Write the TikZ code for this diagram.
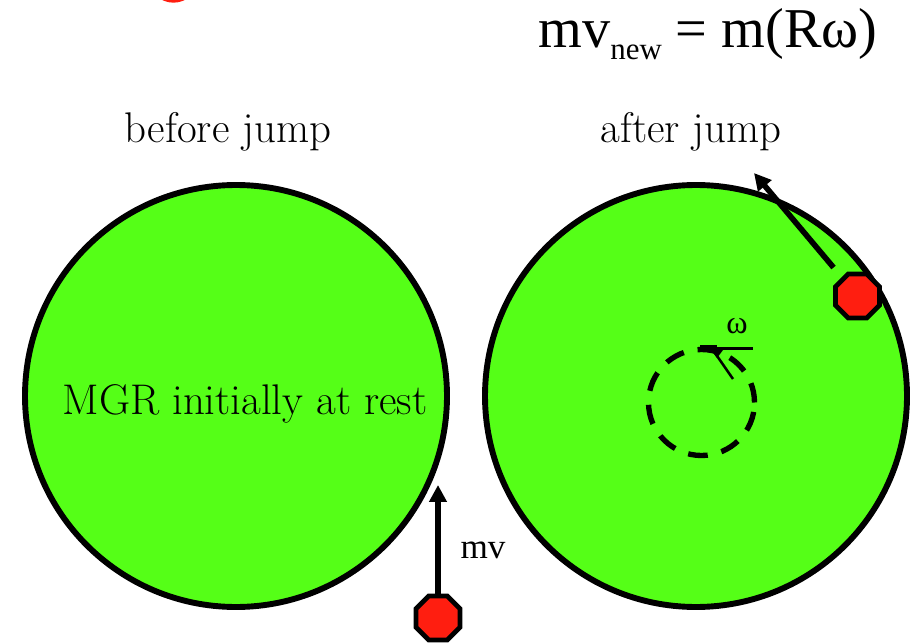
\documentclass[tikz,border=0pt]{standalone}
\usepackage{fontspec}
\usepackage{xcolor}
\usepackage{tikz}
\usetikzlibrary{calc, shapes.geometric, arrows.meta, positioning}
\newfontfamily\timesfont{Liberation Serif}
\definecolor{diskgreen}{RGB}{85,255,23}
\definecolor{jumperred}{RGB}{255,30,16}

\begin{document}
\begin{tikzpicture}[
    x=0.025cm, y=-0.025cm,
    >=stealth,
    disk_node/.style={circle, draw=black, fill=diskgreen, line width=4.2pt, minimum size=422*0.025cm, inner sep=0pt},
    jumper_node/.style={regular polygon, regular polygon sides=8, draw=black, fill=jumperred, line width=3.4pt, minimum size=34pt, inner sep=0pt},
    spin_node/.style={circle, draw=black, line width=3.8pt, dash pattern=on 14pt off 10pt, minimum size=106*0.025cm, inner sep=0pt},
    mom_arrow/.style={draw=black, line width=4pt, -{Triangle[width=12pt, length=12pt]}},
    title_text/.style={anchor=base, font=\fontsize{30.5}{32}\selectfont, inner sep=0pt},
    sym_text/.style={anchor=base, inner sep=0pt}
]
    \useasboundingbox (0,0) rectangle (921,643);

    % =========================================================================
    % TOP: EQUATION
    % =========================================================================
    \fill [jumperred] (173.5,-22.3) circle (25);
    \node [sym_text, font=\timesfont\fontsize{40}{42}\selectfont] (eqn) at (708,48) {mv\raisebox{-8.5pt}{\fontsize{22}{22}\selectfont new} = m(Rω)};

    % =========================================================================
    % LEFT: BEFORE JUMP
    % =========================================================================
    \node [title_text] (before) at (228,143) {before jump};
    \node [disk_node] (diskA) at (236,396) {};
    \node [title_text] (rest) at (245,414) {MGR initially at rest};

    \node [jumper_node] (jumperA) at (438,618) {};
    \coordinate (tipA) at (438,485);
    \draw [mom_arrow] (jumperA.north) -- (tipA);
    \node [sym_text, font=\timesfont\fontsize{25}{27}\selectfont] (mv) at (483,558) {mv};

    % =========================================================================
    % RIGHT: AFTER JUMP
    % =========================================================================
    \node [title_text] (after) at (691,143) {after jump};
    \node [disk_node] (diskB) at (696,396) {};

    \node [spin_node] (spin) at (701.5,402.5) {};
    \node [sym_text, font=\timesfont\fontsize{23}{24}\selectfont] (omega) at (737,333) {ω};
    % rotation arrow mark
    \fill (700,345) rectangle (717,352);
    \draw [line width=2.2pt] (717,348.5) -- (753,348.5);
    \fill (711,350) -- (723,350) -- (717,358) -- cycle;
    \draw [line width=1.8pt] (715,353) -- (733,379);

    \node [jumper_node] (jumperB) at (857.5,296) {};
    \coordinate (tipB) at (754,173);
    \draw [mom_arrow, shorten <=9pt] (jumperB) -- (tipB);
\end{tikzpicture}
\end{document}
